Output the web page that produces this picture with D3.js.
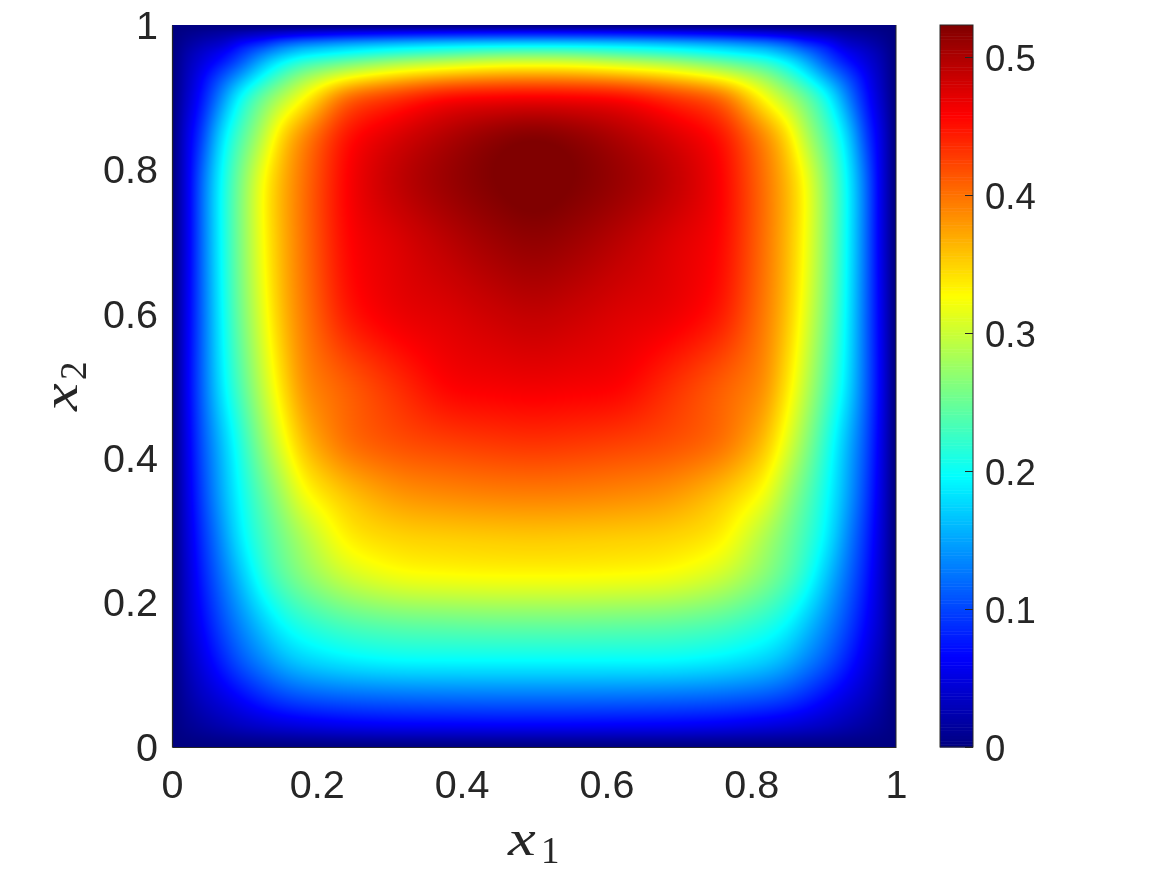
<!DOCTYPE html>
<html><head><meta charset="utf-8">
<script src="https://cdn.jsdelivr.net/npm/d3@7"></script>
<style>
html,body{margin:0;padding:0;background:#fff}
#wrap{position:relative;width:1167px;height:875px;overflow:hidden}
canvas{position:absolute;left:172px;top:25px}
svg{position:absolute;left:0;top:0}
text{font-family:"Liberation Sans",Arial,sans-serif;fill:#262626}
.m{font-family:"Liberation Serif",serif}
</style></head><body><div id="wrap"><canvas id="c" width="724" height="722"></canvas><svg id="s" width="1167" height="875"></svg></div>
<script>
const x1Nodes=[0,.023,.045,.07,.095,.127,.15,.18,.24,.31,.38,.45,.5,.55,.62,.69,.76,.82,.85,.873,.905,.93,.955,.977,1];
const x2Nodes=[0,.03,.07,.118,.17,.236,.29,.345,.42,.5,.6,.7,.785,.85,.906,.926,.945,.96,.971,.99,1];
const cellValues=[
[0,0,0,0,0,0,0,0,0,0,0,0,0,0,0,0,0,0,0,0,0,0,0,0,0],
[0,.01,.018,.026,.034,.042,.047,.052,.059,.063,.064,.065,.065,.065,.064,.063,.059,.052,.047,.042,.034,.026,.018,.01,0],
[0,.02,.037,.052,.068,.088,.1,.11,.118,.122,.124,.125,.125,.125,.124,.122,.118,.11,.1,.088,.068,.052,.037,.02,0],
[0,.03,.055,.082,.11,.135,.155,.172,.187,.195,.196,.196,.196,.196,.196,.195,.187,.172,.155,.135,.11,.082,.055,.03,0],
[0,.04,.07,.105,.135,.17,.196,.215,.235,.245,.248,.25,.25,.25,.248,.245,.235,.215,.196,.17,.135,.105,.07,.04,0],
[0,.045,.085,.125,.165,.215,.24,.265,.3,.32,.325,.327,.327,.327,.325,.32,.3,.265,.24,.215,.165,.125,.085,.045,0],
[0,.05,.095,.14,.19,.23,.255,.285,.333,.348,.352,.354,.355,.354,.352,.348,.333,.285,.255,.23,.19,.14,.095,.05,0],
[0,.055,.105,.155,.2,.245,.275,.32,.355,.378,.386,.39,.391,.39,.386,.378,.355,.32,.275,.245,.2,.155,.105,.055,0],
[0,.06,.115,.165,.215,.272,.312,.36,.4,.417,.425,.43,.432,.43,.425,.417,.4,.36,.312,.272,.215,.165,.115,.06,0],
[0,.065,.125,.19,.238,.298,.34,.385,.41,.435,.458,.463,.465,.463,.458,.435,.41,.385,.34,.298,.238,.19,.125,.065,0],
[0,.063,.127,.2,.255,.316,.36,.395,.445,.467,.475,.485,.49,.485,.475,.467,.445,.395,.36,.316,.255,.2,.127,.063,0],
[0,.06,.131,.205,.262,.327,.365,.4,.455,.475,.493,.508,.514,.508,.493,.475,.455,.4,.365,.327,.262,.205,.131,.06,0],
[0,.06,.13,.205,.26,.327,.365,.4,.458,.49,.51,.524,.53,.524,.51,.49,.458,.4,.365,.327,.26,.205,.13,.06,0],
[0,.055,.105,.185,.235,.29,.345,.385,.447,.475,.497,.514,.52,.514,.497,.475,.447,.385,.345,.29,.235,.185,.105,.055,0],
[0,.04,.08,.135,.2,.25,.28,.32,.4,.43,.452,.457,.458,.457,.452,.43,.4,.32,.28,.25,.2,.135,.08,.04,0],
[0,.035,.07,.115,.15,.205,.24,.28,.327,.36,.38,.39,.392,.39,.38,.36,.327,.28,.24,.205,.15,.115,.07,.035,0],
[0,.03,.055,.08,.115,.17,.205,.235,.265,.295,.312,.325,.327,.325,.312,.295,.265,.235,.205,.17,.115,.08,.055,.03,0],
[0,.025,.045,.065,.095,.135,.16,.185,.205,.225,.24,.255,.258,.255,.24,.225,.205,.185,.16,.135,.095,.065,.045,.025,0],
[0,.018,.032,.045,.075,.1,.125,.145,.165,.18,.19,.195,.196,.195,.19,.18,.165,.145,.125,.1,.075,.045,.032,.018,0],
[0,.006,.011,.016,.022,.03,.036,.043,.052,.058,.062,.064,.065,.064,.062,.058,.052,.043,.036,.03,.022,.016,.011,.006,0],
[0,0,0,0,0,0,0,0,0,0,0,0,0,0,0,0,0,0,0,0,0,0,0,0,0]
];
const xTicks=[0,.2,.4,.6,.8,1];
const yTicks=[0,.2,.4,.6,.8,1];
const cbTicks=[0,.1,.2,.3,.4,.5];
const cMax=.5232;
const jetStops=[0,.125,.375,.625,.875,1];
const jetColors=["#000080","#0000ff","#00ffff","#ffff00","#ff0000","#800000"];

const plot={l:172,r:896,t:25,b:747};
const cb={l:940,r:973};
const x=d3.scaleLinear().domain([0,1]).range([plot.l,plot.r]);
const y=d3.scaleLinear().domain([0,1]).range([plot.b,plot.t]);
const jet=d3.scaleLinear().domain(jetStops.map(d=>d*cMax)).range(jetColors).clamp(true);
const cy=d3.scaleLinear().domain([0,cMax]).range([plot.b,plot.t]);

// smooth shading between the table's nodes (Catmull-Rom weights in node-index space)
const ix=d3.scaleLinear().domain(x1Nodes).range(x1Nodes.map((d,i)=>i)).clamp(true);
const iy=d3.scaleLinear().domain(x2Nodes).range(x2Nodes.map((d,i)=>i)).clamp(true);
const weights=t=>[(-t+2*t*t-t*t*t)/2,(2-5*t*t+3*t*t*t)/2,(t+4*t*t-3*t*t*t)/2,(-t*t+t*t*t)/2];
const ctx=document.getElementById('c').getContext('2d');
const W=plot.r-plot.l,H=plot.b-plot.t;
const img=ctx.createImageData(W,H);
const nx=x1Nodes.length,ny=x2Nodes.length;
const colWeights=d3.range(W).map(px=>{
  const f=ix(x.invert(plot.l+px+.5)),i=Math.min(Math.floor(f),nx-2);
  return {i,w:weights(f-i)};
});
const field=new Float32Array(W*H);
for(let py=0;py<H;py++){
  const f=iy(y.invert(plot.t+py+.5)),j=Math.min(Math.floor(f),ny-2),wy=weights(f-j);
  const rows=[-1,0,1,2].map(o=>cellValues[Math.max(0,Math.min(ny-1,j+o))]);
  for(let px=0;px<W;px++){
    const {i,w}=colWeights[px];
    let v=0;
    for(let b=0;b<4;b++){
      const r=rows[b];
      let s=0;
      for(let a=0;a<4;a++) s+=w[a]*r[Math.max(0,Math.min(nx-1,i+a-1))];
      v+=wy[b]*s;
    }
    field[py*W+px]=v;
  }
}
// soften the surface away from the frame, where the picture is smooth
const soft=Float32Array.from(field);
d3.blur2({data:soft,width:W,height:H},9);
const lut=d3.range(1024).map(i=>d3.rgb(jet(i/1023*cMax)));
for(let py=0;py<H;py++){
  for(let px=0;px<W;px++){
    const d=Math.min(px,py,W-1-px,H-1-py),m=Math.min(1,d/45);
    const v=field[py*W+px]*(1-m)+soft[py*W+px]*m;
    const c=lut[Math.max(0,Math.min(1023,Math.round(v/cMax*1023)))];
    const k=(py*W+px)*4;
    img.data[k]=c.r;img.data[k+1]=c.g;img.data[k+2]=c.b;img.data[k+3]=255;
  }
}
ctx.putImageData(img,0,0);

const svg=d3.select('#s');
const fmt=d=>String(d);
const FS=39.5,FSC=36.5;
const ax=svg.append('g').attr('transform',`translate(0,${plot.b})`).call(d3.axisBottom(x).tickValues(xTicks).tickSize(0).tickFormat(fmt));
ax.select('.domain').attr('stroke','#262626').attr('stroke-width',1.2);
ax.selectAll('text').attr('font-size',FS).attr('y',0).attr('dy','1.29em').style('font-family','"Liberation Sans"').style('fill','#262626');
const ay=svg.append('g').attr('transform',`translate(${plot.l},0)`).call(d3.axisLeft(y).tickValues(yTicks).tickSize(0).tickFormat(fmt));
ay.select('.domain').attr('stroke','#262626').attr('stroke-width',1.2);
ay.selectAll('text').attr('font-size',FS).attr('x',-14).attr('y',-1).attr('dy','.36em').style('font-family','"Liberation Sans"').style('fill','#262626');
svg.append('line').attr('x1',plot.r).attr('x2',plot.r).attr('y1',plot.t).attr('y2',plot.b).attr('stroke','#262626').attr('stroke-width',1);

// colour bar
const bands=d3.range(256);
const bandV=d3.scaleLinear().domain([0,256]).range([0,cMax]);
svg.append('g').selectAll('rect').data(bands).join('rect')
  .attr('x',cb.l).attr('width',cb.r-cb.l)
  .attr('y',d=>cy(bandV(d+1))).attr('height',d=>cy(bandV(d))-cy(bandV(d+1))+.5)
  .attr('fill',d=>jet(bandV(d+.5)));
svg.append('rect').attr('x',cb.l).attr('y',plot.t).attr('width',cb.r-cb.l).attr('height',plot.b-plot.t).attr('fill','none').attr('stroke','#262626').attr('stroke-width',1);
const ac=svg.append('g').attr('transform',`translate(${cb.r},0)`).call(d3.axisRight(cy).tickValues(cbTicks).tickSize(-8).tickFormat(fmt));
ac.select('.domain').remove();
ac.selectAll('line').attr('stroke','#262626');
ac.selectAll('text').attr('font-size',FSC).attr('x',12).attr('y',1).attr('dy','.35em').attr('text-anchor','start').style('font-family','"Liberation Sans"').style('fill','#262626');

// axis titles
const xl=svg.append('g').attr('transform','translate(508,855)');
xl.append('text').attr('class','m').attr('font-size',50).attr('font-style','italic').attr('transform','scale(1.25,1)').text('x');
xl.append('text').attr('class','m').attr('x',33).attr('y',8).attr('font-size',37).text('1');
const yl=svg.append('g').attr('transform','translate(77,411) rotate(-90)');
yl.append('text').attr('class','m').attr('font-size',50).attr('font-style','italic').attr('transform','scale(1.25,1)').text('x');
yl.append('text').attr('class','m').attr('x',31).attr('y',9).attr('font-size',37).text('2');
</script></body></html>
